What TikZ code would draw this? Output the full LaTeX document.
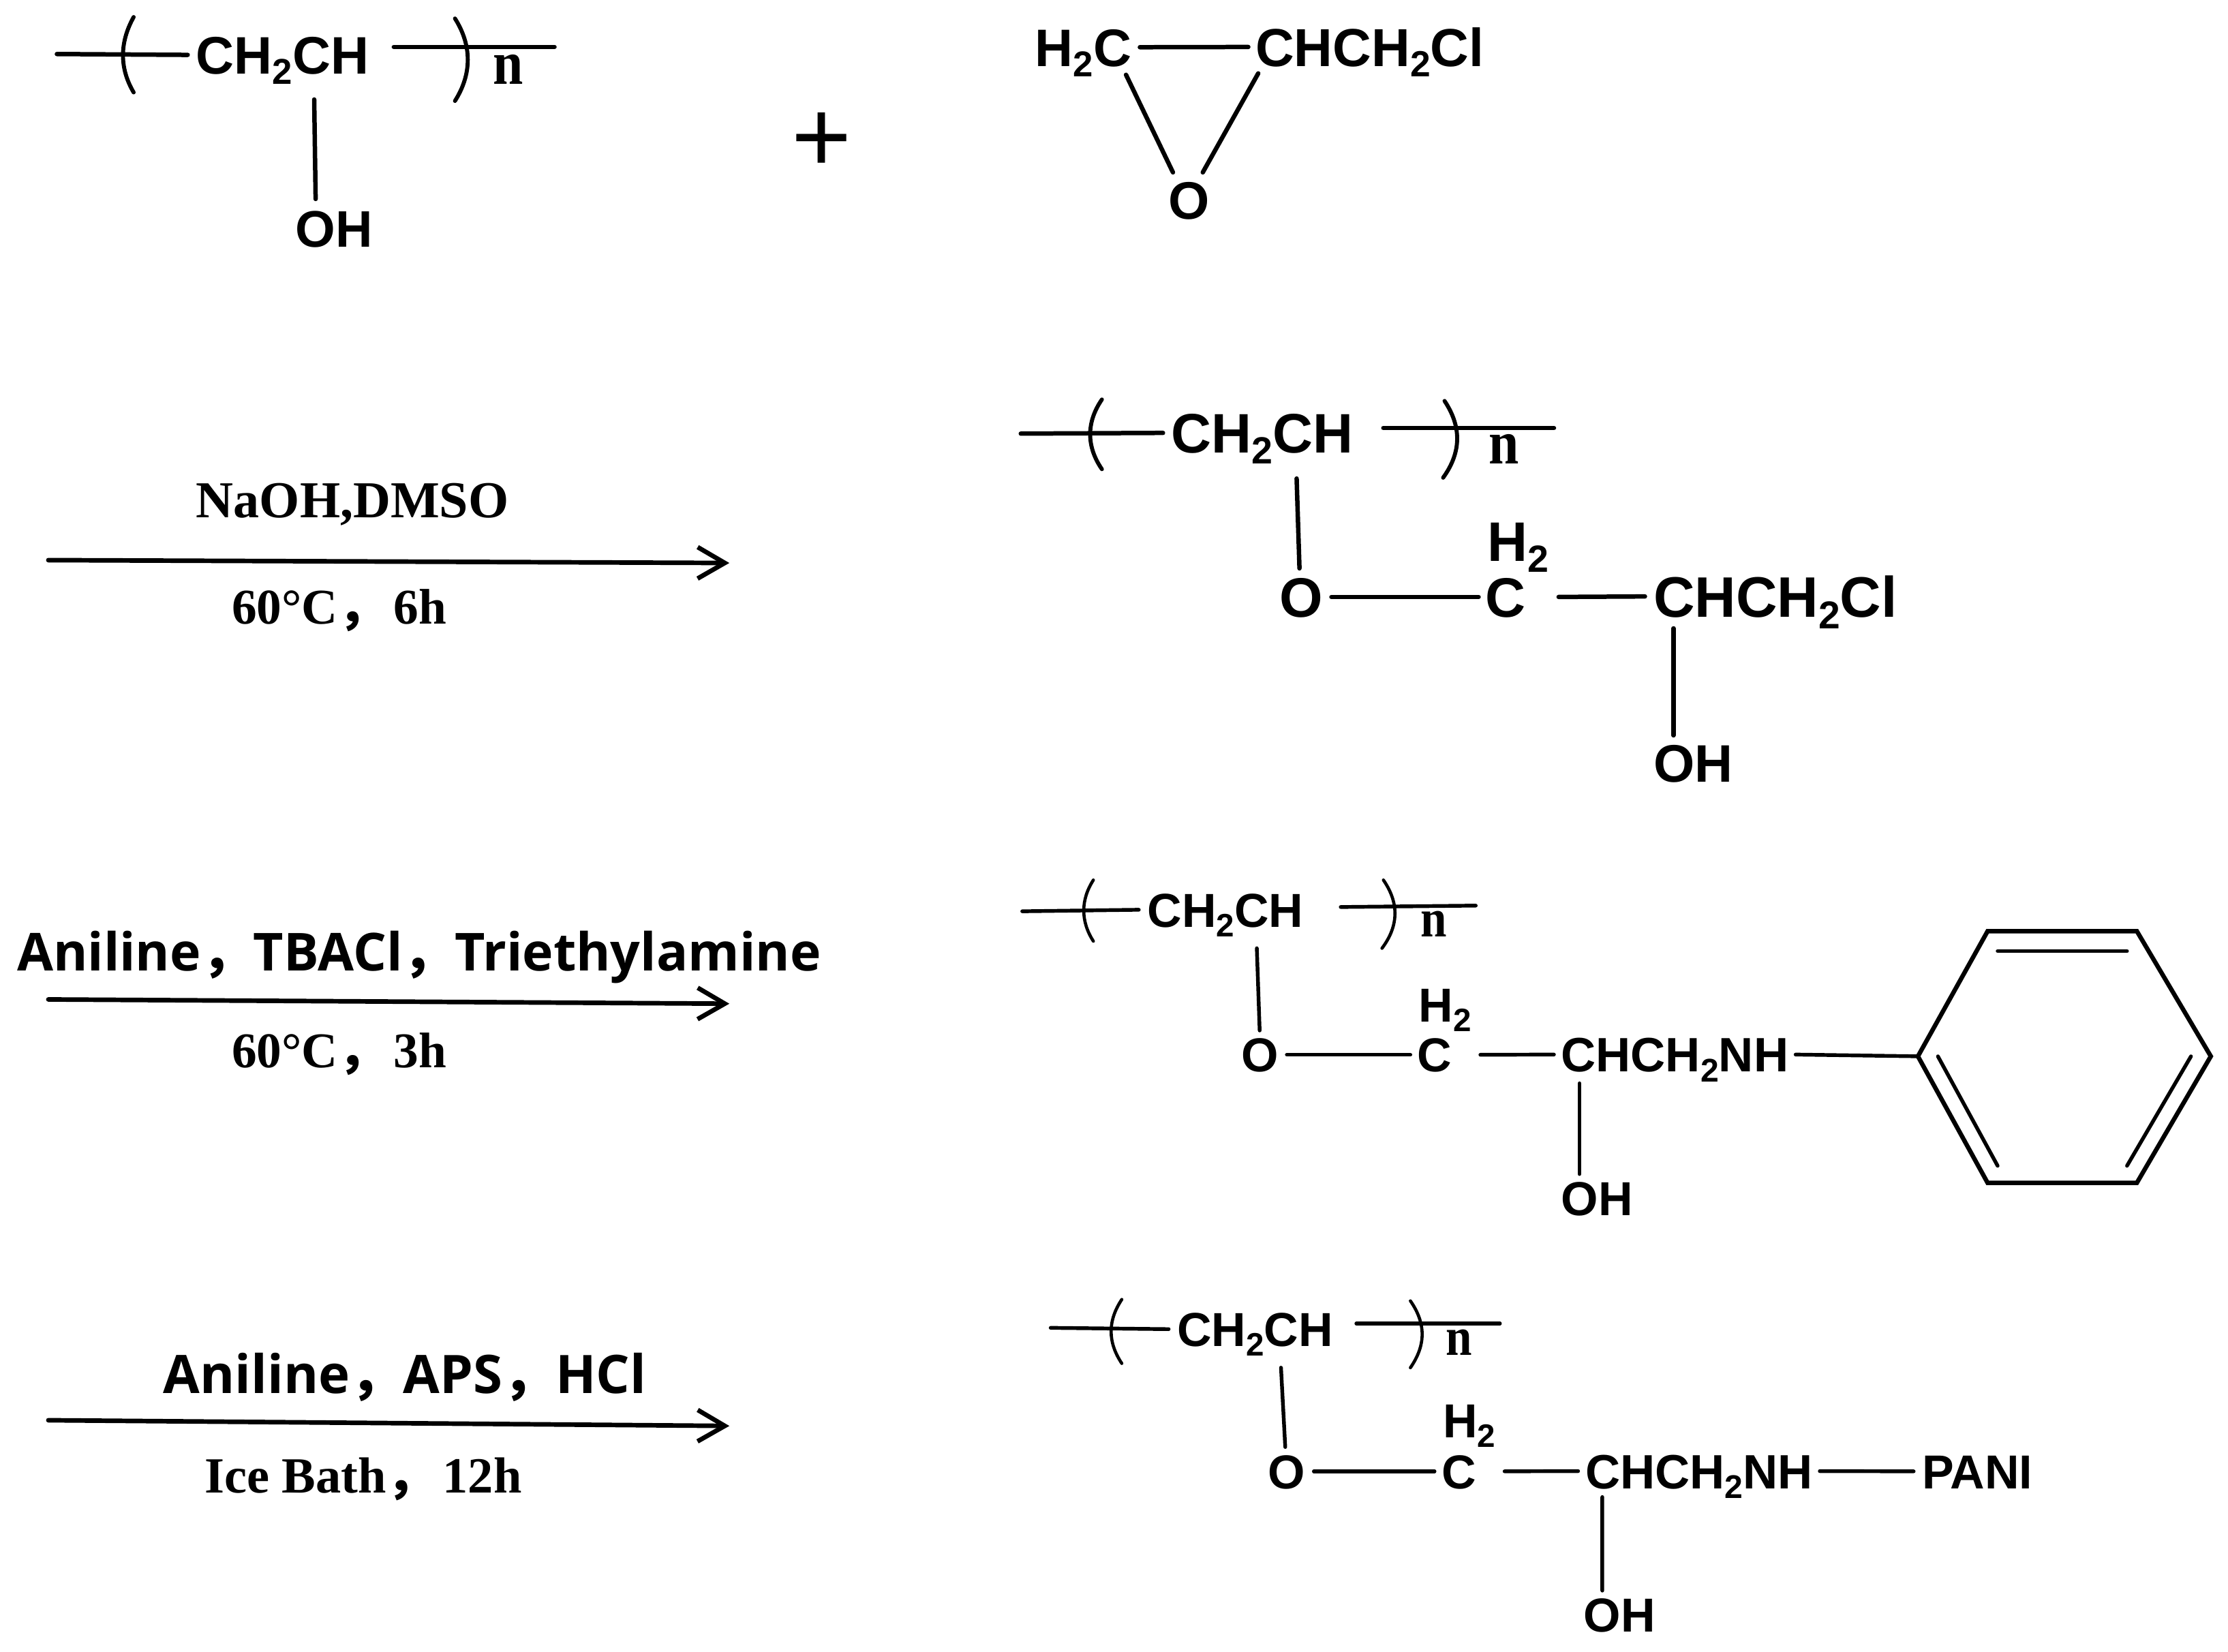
\documentclass[tikz,border=0pt]{standalone}
\usepackage{fontspec}
\usetikzlibrary{arrows.meta,calc}
\newfontfamily\chemf{Liberation Sans}
\newfontfamily\serf{Liberation Serif}
\newfontfamily\rsans{Open Sans}
\newfontfamily\cjkf{Noto Sans CJK SC}
\newcommand{\sbt}[1]{\raisebox{-.2em}{\scalebox{.68}{#1}}}
\newcommand{\cm}{{\cjkf\bfseries ，}}
\newcommand{\cmr}{{\cjkf ，}\hspace{4pt}}
\tikzset{
  atom/.style={font=\fontsize{#1}{#1}\selectfont\chemf\bfseries,anchor=base west,inner sep=0pt,outer sep=0pt,text height={0.72*#1pt},text depth=0pt},
  rep/.style={font=\fontsize{#1}{#1}\selectfont\serf\bfseries,anchor=base west,inner sep=0pt,outer sep=0pt},
  reag/.style={font=\fontsize{#1}{#1}\selectfont\rsans\bfseries,anchor=base west,inner sep=0pt,outer sep=0pt},
  cond/.style={font=\fontsize{#1}{#1}\selectfont\serf\bfseries,anchor=base west,inner sep=0pt,outer sep=0pt},
  bond/.style={line width=3.1pt,line cap=round,black},
  thin bond/.style={line width=2.6pt,line cap=round,black},
  paren/.style={line width=2.8pt,line cap=round,black},
  thin paren/.style={line width=2.2pt,line cap=round,black},
  react/.style={line width=3.2pt,line cap=round,-{Straight Barb[length=19pt,width=22pt,line width=3.2pt]}},
}
\begin{document}
\begin{tikzpicture}[x=1pt,y=-1pt]
\useasboundingbox (0,0) rectangle (1560,1156.3);
\begin{scope}[scale=0.9955]
% ---- structure 1 : PVA
\node[atom=37] (a1) at (138,52) {CH\sbt{2}CH};
\node[atom=36] (a1oh) at (208,174) {OH};
\node[rep=38] (a1n) at (347,59) {\scalebox{1}[1.15]{n}};
\coordinate (a1l) at (40,38);
\coordinate (a1ra) at (277,33);
\coordinate (a1rb) at (390,33);
\draw[bond] (a1l) -- ([xshift=-6pt]a1.west);
\draw[bond] (a1ra) -- (a1rb);
\draw[bond] ([shift={(83,18)}]a1.base west) -- ([shift={(14,-8)}]a1oh.north west);
\draw[paren] (94,12) .. controls (84,30) and (84,48) .. (94,65);
\draw[paren] (320,13) .. controls (332,32) and (332,52) .. (320,71);
\node[font=\fontsize{72}{72}\selectfont\chemf,inner sep=0pt] (plus) at (578,100) {+};
% ---- epichlorohydrin
\node[atom=37] (e1) at (728,46.6) {H\sbt{2}C};
\node[atom=37.5] (e2) at (883,46.6) {CHCH\sbt{2}Cl};
\node[atom=37] (e3) at (822,154) {O};
\draw[bond] ([xshift=6pt]e1.east) -- ([xshift=-5pt]e2.west);
\draw[bond] ([shift={(64,6)}]e1.base west) -- ([shift={(3,-6)}]e3.north west);
\draw[bond] ([shift={(2,5)}]e2.base west) -- ([shift={(24,-6)}]e3.north west);
% ---- arrow 1
\coordinate (r1s) at (34,394);
\coordinate (r1e) at (513,396);
\draw[react] (r1s) -- (r1e);
\node[rep=36.3] (r1t) at (138,364) {NaOH,DMSO};
\node[cond=35] (r1b) at (163,439) {60°C\cmr 6h};
% ---- structure 2
\node[atom=39] (b1) at (824,318.6) {CH\sbt{2}CH};
\node[rep=38] (b1n) at (1047,326) {\scalebox{1}[1.15]{n}};
\coordinate (b1l) at (718,305);
\coordinate (b1ra) at (973,301);
\coordinate (b1rb) at (1093,301);
\draw[bond] (b1l) -- ([xshift=-6pt]b1.west);
\draw[bond] (b1ra) -- (b1rb);
\draw[paren] (775,281) .. controls (764,297) and (764,314) .. (775,330);
\draw[paren] (1016,282) .. controls (1028,300) and (1028,318) .. (1015,336);
\node[atom=39] (b2) at (900,434) {O};
\node[atom=39] (b3) at (1045,434) {C};
\node[atom=39] (b3h) at (1046,394.6) {H\sbt{2}};
\node[atom=40] (b4) at (1163,434) {CHCH\sbt{2}Cl};
\node[atom=37] (b5) at (1163,550) {OH};
\draw[bond] ([shift={(88,18)}]b1.base west) -- ([shift={(14,-6)}]b2.north west);
\draw[bond] ([xshift=6pt]b2.east) -- ([xshift=-5pt]b3.west);
\draw[bond] ([xshift=23pt]b3.east) -- ([xshift=-6pt]b4.west);
\draw[bond] ([shift={(14,8)}]b4.base west) -- ([shift={(14,-6)}]b5.north west);
% ---- arrow 2
\coordinate (r2s) at (34,703);
\coordinate (r2e) at (513,706);
\draw[react] (r2s) -- (r2e);
\node[reag=36.7] (r2t) at (12,683) {Aniline\cm TBACl\cm Triethylamine};
\node[cond=35] (r2b) at (163,751) {60°C\cmr 3h};
% ---- structure 3
\node[atom=33.4] (c1) at (807,652) {CH\sbt{2}CH};
\node[rep=33] (c1n) at (999,659) {\scalebox{1}[1.15]{n}};
\coordinate (c1l) at (719,641);
\coordinate (c1ra) at (943,638);
\coordinate (c1rb) at (1038,637);
\draw[thin bond] (c1l) -- ([xshift=-6pt]c1.west);
\draw[thin bond] (c1ra) -- (c1rb);
\draw[thin paren] (769,619) .. controls (760,633) and (760,648) .. (769,662);
\draw[thin paren] (973,619) .. controls (984,635) and (984,651) .. (972,667);
\node[atom=33.4] (c2) at (873,754) {O};
\node[atom=33.4] (c3) at (997,754) {C};
\node[atom=33.4] (c3h) at (998,719) {H\sbt{2}};
\node[atom=33.8] (c4) at (1098,754) {CHCH\sbt{2}NH};
\node[atom=33.4] (c5) at (1098,855) {OH};
\draw[thin bond] ([shift={(77,15)}]c1.base west) -- ([shift={(13,-5)}]c2.north west);
\draw[thin bond] ([xshift=6pt]c2.east) -- ([xshift=-5pt]c3.west);
\draw[thin bond] ([xshift=20pt]c3.east) -- ([xshift=-5pt]c4.west);
\draw[thin bond] ([shift={(13,8)}]c4.base west) -- ([shift={(13,-5)}]c5.north west);
% benzene
\coordinate (h1) at (1349,743);
\coordinate (h2) at (1398,655);
\coordinate (h3) at (1503,655);
\coordinate (h4) at (1555,743);
\coordinate (h5) at (1503,832);
\coordinate (h6) at (1398,832);
\draw[bond,line join=miter] (h1) -- (h2) -- (h3) -- (h4) -- (h5) -- (h6) -- cycle;
\draw[thin bond] ([xshift=5pt]c4.east) -- (h1);
\draw[thin bond] (1405,669) -- (1496,669);
\draw[thin bond] (1363,743) -- (1405,820);
\draw[thin bond] (1541,743) -- (1496,820);
% ---- arrow 3
\coordinate (r3s) at (34,999);
\coordinate (r3e) at (513,1003);
\draw[react] (r3s) -- (r3e);
\node[reag=37.2] (r3t) at (115,980) {Aniline\cm APS\cm HCl};
\node[cond=35.5] (r3b) at (144,1050) {Ice Bath\cmr 12h};
% ---- structure 4
\node[atom=33.4] (d1) at (828,947) {CH\sbt{2}CH};
\node[rep=33] (d1n) at (1017,953) {\scalebox{1}[1.15]{n}};
\coordinate (d1l) at (739,934);
\coordinate (d1ra) at (954,931);
\coordinate (d1rb) at (1055,931);
\draw[thin bond] (d1l) -- ([xshift=-6pt]d1.west);
\draw[thin bond] (d1ra) -- (d1rb);
\draw[thin paren] (789,914) .. controls (779,929) and (779,944) .. (789,959);
\draw[thin paren] (992,915) .. controls (1003,931) and (1003,946) .. (992,962);
\node[atom=33.4] (d2) at (892,1047) {O};
\node[atom=33.4] (d3) at (1014,1047) {C};
\node[atom=33.4] (d3h) at (1015,1011) {H\sbt{2}};
\node[atom=33.8] (d4) at (1115,1047) {CHCH\sbt{2}NH};
\node[atom=33.4] (d6) at (1352,1047) {PANI};
\node[atom=33.4] (d5) at (1114,1148) {OH};
\draw[thin bond] ([shift={(73,15)}]d1.base west) -- ([shift={(12,-5)}]d2.north west);
\draw[thin bond] ([xshift=6pt]d2.east) -- ([xshift=-5pt]d3.west);
\draw[thin bond] ([xshift=20pt]d3.east) -- ([xshift=-5pt]d4.west);
\draw[thin bond] ([xshift=5pt]d4.east) -- ([xshift=-6pt]d6.west);
\draw[thin bond] ([shift={(12,6)}]d4.base west) -- ([shift={(13,-5)}]d5.north west);
\end{scope}
\end{tikzpicture}
\end{document}
